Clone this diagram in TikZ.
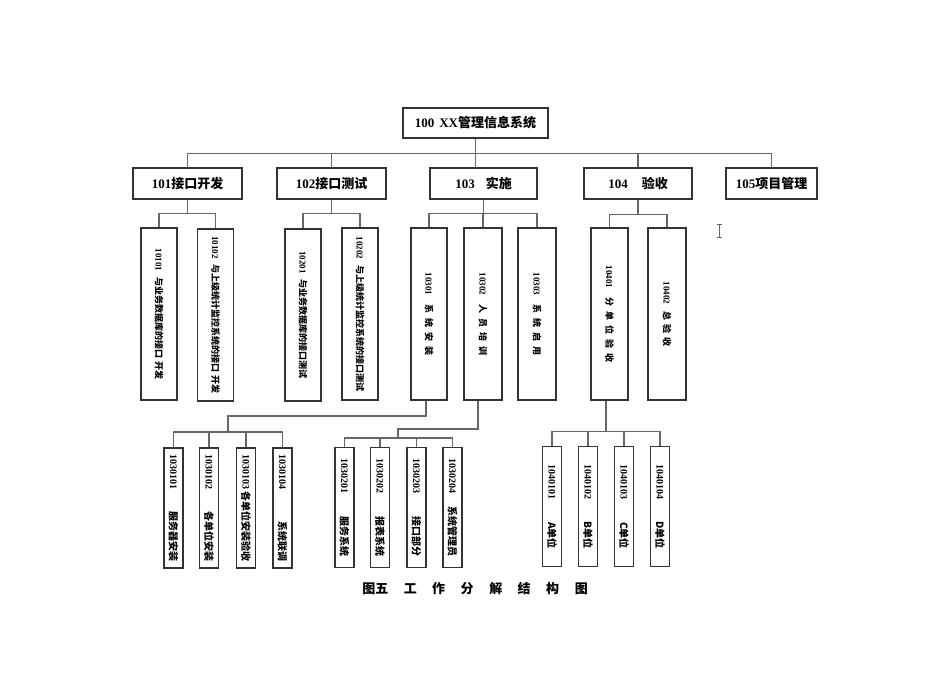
\documentclass[tikz,border=0pt]{standalone}
\usepackage{fontspec}
\setmainfont{Liberation Serif}
\newfontfamily\cjk{Noto Sans CJK SC}
\usetikzlibrary{calc}
\newcommand\zh[1]{{\cjk #1}}
\newcommand\gp{\hspace{5pt}}
\newcommand\leafbox[6]{%
  \node[leaf] (#1) at (#2,#3) {};
  \node[vtl,anchor=west] (#1n) at ($(#1.north)+(0,#6)$) {#4};
  \node[vtl,anchor=east] (#1c) at ($(#1.south)+(0,-#6)$) {\zh{#5}};}
\begin{document}
\begin{tikzpicture}[x=1pt,y=-1pt,
  box/.style={draw=black!80,line width=1.2pt,inner sep=0pt,fill=white},
  topbox/.style={box,minimum height=31pt,font=\bfseries\fontsize{13}{15}\selectfont},
  vbox/.style={box,minimum width=36pt,minimum height=172pt},
  leaf/.style={box,minimum width=19pt,minimum height=120pt},
  vt/.style={rotate=-90,inner sep=0pt,font=\bfseries\fontsize{9}{10}\selectfont},
  vtl/.style={rotate=-90,inner sep=0pt,font=\bfseries\fontsize{10}{11}\selectfont},
  conn/.style={draw=black!60,line width=1.1pt}]
\fill[white] (0,0) rectangle (950,672);
\useasboundingbox (0,0) rectangle (950,672);

% level 0
\node[topbox,minimum width=145pt,minimum height=30pt] (n100) at (475.5,123) {100\hspace{5pt}XX\zh{管理信息系统}};

% level 1
\node[topbox,minimum width=109pt] (n101) at (187.5,183.5) {101\zh{接口开发}};
\node[topbox,minimum width=109pt] (n102) at (331.5,183.5) {102\zh{接口测试}};
\node[topbox,minimum width=107pt] (n103) at (483.5,183.5) {103\hspace{11pt}\zh{实施}};
\node[topbox,minimum width=108pt] (n104) at (638,183.5) {104\hspace{14pt}\zh{验收}};
\node[topbox,minimum width=91pt] (n105) at (771.5,183.5) {105\zh{项目管理}};

% level 2
\node[vbox] (n10101) at (159,314) {};
\node[vt] (t10101) at (n10101) {10101\hspace{6pt}\zh{与业务数据库的接口\hspace{3pt}开发}};
\node[vbox] (n10102) at (215.5,315) {};
\node[vt] (t10102) at (n10102) {10102\hspace{6pt}\zh{与上级统计监控系统的接口\hspace{3pt}开发}};
\node[vbox] (n10201) at (303,315) {};
\node[vt] (t10201) at (n10201) {10201\hspace{6pt}\zh{与业务数据库的接口测试}};
\node[vbox] (n10202) at (360,314) {};
\node[vt] (t10202) at (n10202) {10202\hspace{6pt}\zh{与上级统计监控系统的接口测试}};
\node[vbox] (n10301) at (429,314) {};
\node[vt] (t10301) at (n10301) {10301\hspace{9pt}\zh{系\gp 统\gp 安\gp 装}};
\node[vbox,minimum width=38pt] (n10302) at (483,314) {};
\node[vt] (t10302) at (n10302) {10302\hspace{9pt}\zh{人\gp 员\gp 培\gp 训}};
\node[vbox,minimum width=38pt] (n10303) at (537,314) {};
\node[vt] (t10303) at (n10303) {10303\hspace{9pt}\zh{系\gp 统\gp 启\gp 用}};
\node[vbox,minimum width=37pt] (n10401) at (609.5,314) {};
\node[vt] (t10401) at (n10401) {10401\hspace{9pt}\zh{分\gp 单\gp 位\gp 验\gp 收}};
\node[vbox,minimum width=38pt] (n10402) at (667,314) {};
\node[vt] (t10402) at (n10402) {10402\hspace{7pt}\zh{总\hspace{4pt}验\hspace{4pt}收}};

% level 3
\leafbox{n1030101}{173.5}{508}{1030101}{服务器安装}{7}
\leafbox{n1030102}{209}{508}{1030102}{各单位安装}{7}
\leafbox{n1030103}{246}{508}{1030103}{各单位安装验收}{7}
\leafbox{n1030104}{282.5}{508}{1030104}{系统联调}{7}
\leafbox{n1030201}{344.5}{507.5}{1030201}{服务系统}{11}
\leafbox{n1030202}{380}{507.5}{1030202}{报表系统}{11}
\leafbox{n1030203}{416.5}{507.5}{1030203}{接口部分}{11}
\leafbox{n1030204}{452.5}{507.5}{1030204}{系统管理员}{11}
\leafbox{n1040101}{552}{506.5}{1040101}{A单位}{18}
\leafbox{n1040102}{588}{506.5}{1040102}{B单位}{18}
\leafbox{n1040103}{624}{506.5}{1040103}{C单位}{18}
\leafbox{n1040104}{660}{506.5}{1040104}{D单位}{18}

% connectors level 0 -> 1
\draw[conn] (n100.south) -- ++(0,15) coordinate (bus1);
\draw[conn] (n101.north) -- (n101.north |- bus1) -- (n105.north |- bus1) -- (n105.north);
\draw[conn] (n102.north) -- (n102.north |- bus1);
\draw[conn] (bus1) -- (bus1 |- n103.north);
\draw[conn] (n104.north) -- (n104.north |- bus1);

% connectors level 1 -> 2
\draw[conn] (n101.south) -- ++(0,14) coordinate (b101);
\draw[conn] (n10101.north) -- (n10101.north |- b101) -- (n10102.north |- b101) -- (n10102.north);
\draw[conn] (n102.south) -- ++(0,14) coordinate (b102);
\draw[conn] (n10201.north) -- (n10201.north |- b102) -- (n10202.north |- b102) -- (n10202.north);
\draw[conn] (n103.south) -- ++(0,14) coordinate (b103);
\draw[conn] (n10301.north) -- (n10301.north |- b103) -- (n10303.north |- b103) -- (n10303.north);
\draw[conn] (n10302.north) -- (n10302.north |- b103);
\draw[conn] (n104.south) -- ++(0,15) coordinate (b104);
\draw[conn] (n10401.north) -- (n10401.north |- b104) -- (n10402.north |- b104) -- (n10402.north);

% connectors level 2 -> 3
\coordinate (j1) at (228,432);
\draw[conn] ($(n10301.south)+(-3,0)$) |- ($(j1)+(0,-16)$) -- (j1);
\draw[conn] (n1030101.north) -- (n1030101.north |- j1) -- (n1030104.north |- j1) -- (n1030104.north);
\draw[conn] (n1030102.north) -- (n1030102.north |- j1);
\draw[conn] (n1030103.north) -- (n1030103.north |- j1);

\coordinate (j2) at (398,438);
\draw[conn] ($(n10302.south)+(-5,0)$) |- ($(j2)+(0,-9)$) -- (j2);
\draw[conn] (n1030201.north) -- (n1030201.north |- j2) -- (n1030204.north |- j2) -- (n1030204.north);
\draw[conn] (n1030202.north) -- (n1030202.north |- j2);
\draw[conn] (n1030203.north) -- (n1030203.north |- j2);

\draw[conn] ($(n10401.south)+(-3.5,0)$) -- ++(0,31) coordinate (j3);
\draw[conn] (n1040101.north) -- (n1040101.north |- j3) -- (n1040104.north |- j3) -- (n1040104.north);
\draw[conn] (n1040102.north) -- (n1040102.north |- j3);
\draw[conn] (n1040103.north) -- (n1040103.north |- j3);

% text cursor mark
\draw[black!60,line width=0.8pt] (716.5,224) -- (721.5,224) (719,224) -- (719,237) (716.5,237) -- (721.5,237);

% caption
\node[font=\bfseries\fontsize{13}{15}\selectfont\cjk] (cap) at (475,589) {图五\hspace{15.5pt}工\hspace{15.5pt}作\hspace{15.5pt}分\hspace{15.5pt}解\hspace{15.5pt}结\hspace{15.5pt}构\hspace{15.5pt}图};
\end{tikzpicture}
\end{document}
